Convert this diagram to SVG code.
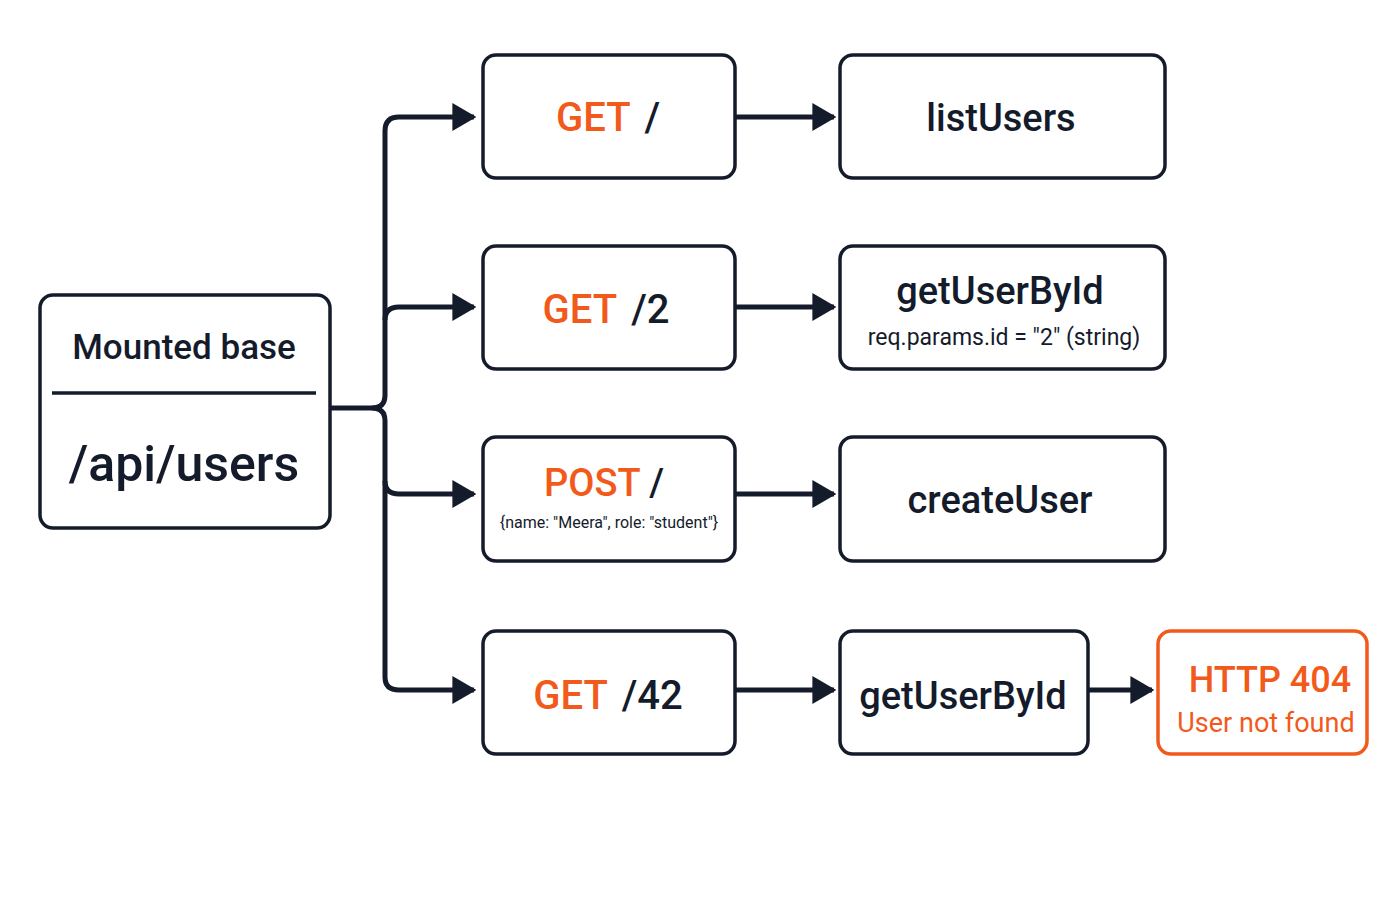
<svg xmlns="http://www.w3.org/2000/svg" width="1400" height="900" viewBox="0 0 1400 900">
<style>
.box{fill:#fff;stroke:#141b2b;stroke-width:3.5}
.err{fill:#fff;stroke:#f25a1c;stroke-width:3.5}
.t{font-family:Roboto,"Liberation Sans",sans-serif;fill:#141b2b;text-anchor:middle}
.o{fill:#f25a1c}
.c{fill:none;stroke:#141b2b;stroke-width:5}
</style>
<defs>
<marker id="h" viewBox="0 0 10 10" refX="9" refY="5" markerWidth="24" markerHeight="28" markerUnits="userSpaceOnUse" orient="auto" preserveAspectRatio="none"><path d="M0,0 L10,5 L0,10 z" fill="#141b2b"/></marker></defs>
<rect width="1400" height="900" fill="#fff"/>
<g id="connectors">
<path class="c" d="M330,408 H372 Q385,408 385,395 V131 Q385,117 399,117 H474" marker-end="url(#h)"/>
<path class="c" d="M385,320 Q385,307 399,307 H474" marker-end="url(#h)"/>
<path class="c" d="M372,408 Q385,408 385,421 V481 Q385,494 399,494 H474" marker-end="url(#h)"/>
<path class="c" d="M385,481 V677 Q385,690 399,690 H474" marker-end="url(#h)"/>
<path class="c" d="M735,117 H834" marker-end="url(#h)"/>
<path class="c" d="M735,307 H834" marker-end="url(#h)"/>
<path class="c" d="M735,494 H834" marker-end="url(#h)"/>
<path class="c" d="M735,690 H834" marker-end="url(#h)"/>
<path class="c" d="M1088,690 H1152" marker-end="url(#h)"/>
</g>
<g id="base"><rect class="box" x="40" y="295" width="290" height="233" rx="13"/>
<text class="t" x="184" y="359" font-size="35" font-weight="500">Mounted base</text>
<line x1="52" y1="393" x2="316" y2="393" stroke="#141b2b" stroke-width="3.5"/>
<text class="t" x="184" y="481" font-size="50" font-weight="500">/api/users</text></g>
<g id="r1"><rect class="box" x="483" y="55" width="252" height="123" rx="13"/>
<text class="t" x="608" y="131" font-size="40" font-weight="500"><tspan class="o">GET</tspan><tspan dx="14">/</tspan></text></g>
<g id="r2"><rect class="box" x="483" y="246" width="252" height="123" rx="13"/>
<text class="t" x="606" y="323" font-size="40" font-weight="500"><tspan class="o">GET</tspan><tspan dx="14">/2</tspan></text></g>
<g id="r3"><rect class="box" x="483" y="437" width="252" height="124" rx="13"/>
<text class="t" x="604" y="496" font-size="38" font-weight="500"><tspan class="o">POST</tspan> /</text>
<text class="t" x="609" y="528" font-size="16">{name: "Meera", role: "student"}</text></g>
<g id="r4"><rect class="box" x="483" y="631" width="252" height="123" rx="13"/>
<text class="t" x="608" y="709" font-size="40" font-weight="500"><tspan class="o">GET</tspan><tspan dx="14">/42</tspan></text></g>
<g id="h1"><rect class="box" x="840" y="55" width="325" height="123" rx="13"/>
<text class="t" x="1001" y="131" font-size="38" font-weight="500">listUsers</text></g>
<g id="h2"><rect class="box" x="840" y="246" width="325" height="123" rx="13"/>
<text class="t" x="1000" y="304" font-size="38" font-weight="500">getUserById</text>
<text class="t" x="1004" y="345" font-size="23">req.params.id = "2" (string)</text></g>
<g id="h3"><rect class="box" x="840" y="437" width="325" height="124" rx="13"/>
<text class="t" x="1000" y="513" font-size="38" font-weight="500">createUser</text></g>
<g id="h4"><rect class="box" x="840" y="631" width="248" height="123" rx="13"/>
<text class="t" x="963" y="709" font-size="38" font-weight="500">getUserById</text></g>
<g id="e404"><rect class="err" x="1158" y="631" width="209" height="123" rx="13"/>
<text class="t o" x="1270" y="692" font-size="36" font-weight="500">HTTP 404</text>
<text class="t o" x="1266" y="732" font-size="27">User not found</text></g>
</svg>
